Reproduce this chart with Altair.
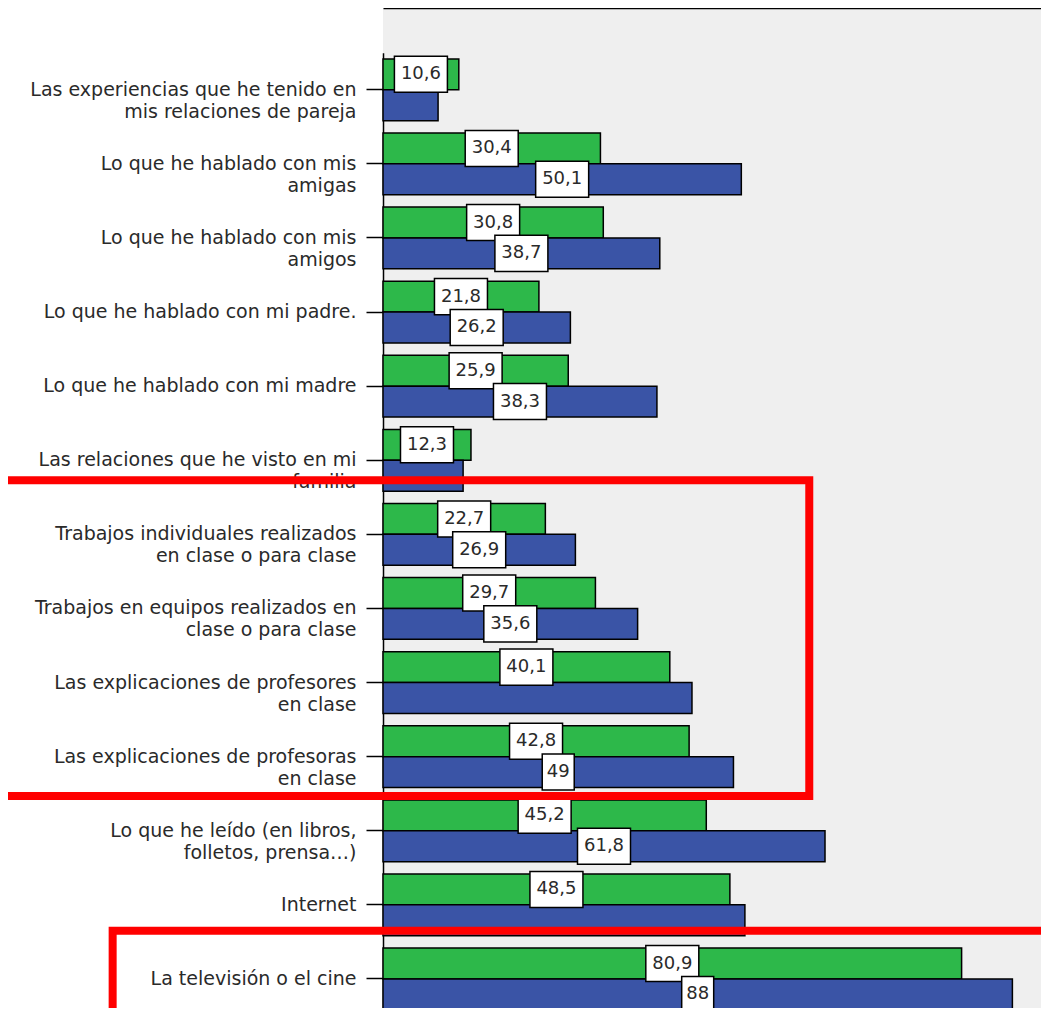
import altair as alt
import pandas as pd

categories = [
    "Las experiencias que he tenido en\nmis relaciones de pareja",
    "Lo que he hablado con mis\namigas",
    "Lo que he hablado con mis\namigos",
    "Lo que he hablado con mi padre.",
    "Lo que he hablado con mi madre",
    "Las relaciones que he visto en mi\nfamilia",
    "Trabajos individuales realizados\nen clase o para clase",
    "Trabajos en equipos realizados en\nclase o para clase",
    "Las explicaciones de profesores\nen clase",
    "Las explicaciones de profesoras\nen clase",
    "Lo que he leído (en libros,\nfolletos, prensa…)",
    "Internet",
    "La televisión o el cine",
]
series = ["Grupo verde", "Grupo azul"]
green_values = [10.6, 30.4, 30.8, 21.8, 25.9, 12.3, 22.7, 29.7, 40.1, 42.8, 45.2, 48.5, 80.9]
blue_values = [7.7, 50.1, 38.7, 26.2, 38.3, 11.2, 26.9, 35.6, 43.2, 49, 61.8, 50.6, 88]
green_label_shown = [True] * 13
blue_label_shown = [False, True, True, True, True, False, True, True, False, True, True, False, True]

# highlight boxes (annotation): x in value units, y as category bands
hl_x_start = [-60, -37.8]
hl_x_end = [59.6, 100]
hl_y_start = [categories[5], categories[11]]
hl_y_end = [categories[10], categories[12]]

rows = []
for cat, g, b, gs, bs in zip(categories, green_values, blue_values, green_label_shown, blue_label_shown):
    for s, v, show in ((series[0], g, gs), (series[1], b, bs)):
        lab = f"{v:g}".replace(".", ",")
        rows.append({"category": cat, "series": s, "value": v, "label": lab,
                     "show": show, "box": "long" if len(lab) > 2 else "short"})
df = pd.DataFrame(rows)

FONT = "DejaVu Sans"

y_scale = alt.Scale(domain=categories, range=[44.7, 1008.0], paddingInner=0, paddingOuter=0)
y_axis = alt.Axis(title=None, labelExpr="split(datum.label, '\\n')", labelFontSize=19,
                  labelFont=FONT, labelColor="#2a2a2a", labelLineHeight=22, labelLimit=500,
                  tickSize=17, tickColor="black", tickWidth=1.5, domainColor="black",
                  domainWidth=1.5, labelPadding=10, labelAlign="right", labelBaseline="middle",
                  grid=False)
x_scale = alt.Scale(domain=[0, 92], nice=False, zero=True)
x_axis = alt.Axis(orient="top", labels=False, ticks=False, grid=False, title=None,
                  domainColor="black", domainWidth=1.5)
yoff = alt.YOffset("series:N", sort=series,
                   scale=alt.Scale(domain=series, paddingOuter=0.2, paddingInner=0))

base = alt.Chart(df)

bars = base.mark_bar(stroke="black", strokeWidth=1.5).encode(
    x=alt.X("value:Q", scale=x_scale, axis=x_axis),
    y=alt.Y("category:N", scale=y_scale, axis=y_axis),
    yOffset=yoff,
    color=alt.Color("series:N", scale=alt.Scale(domain=series, range=["#2db84a", "#3a54a6"]), legend=None),
)

lab_base = base.transform_filter("datum.show").transform_calculate(mid="datum.value / 2")

box_long = "M-1,-0.68L1,-0.68L1,0.68L-1,0.68Z"
box_short = "M-1,-1.125L1,-1.125L1,1.125L-1,1.125Z"
boxes = lab_base.mark_point(filled=True, fill="white", stroke="black", strokeWidth=1.5, opacity=1).encode(
    x=alt.X("mid:Q", scale=x_scale),
    y=alt.Y("category:N", scale=y_scale),
    yOffset=yoff,
    shape=alt.Shape("box:N", scale=alt.Scale(domain=["long", "short"], range=[box_long, box_short]), legend=None),
    size=alt.Size("box:N", scale=alt.Scale(domain=["long", "short"], range=[2809, 1024]), legend=None),
)

texts = lab_base.mark_text(font=FONT, fontSize=18, color="#2a2a2a", baseline="middle", align="center").encode(
    x=alt.X("mid:Q", scale=x_scale),
    y=alt.Y("category:N", scale=y_scale),
    yOffset=yoff,
    text="label:N",
)

hl_df = pd.DataFrame({"x1": hl_x_start, "x2": hl_x_end, "y1": hl_y_start, "y2": hl_y_end})

hl1 = alt.Chart(hl_df.iloc[[0]]).mark_rect(fillOpacity=0, stroke="#ff0000", strokeWidth=8).encode(
    x=alt.X("x1:Q", scale=x_scale), x2="x2:Q",
    y=alt.Y("y1:N", scale=y_scale, bandPosition=0.77),
    y2=alt.Y2("y2:N", bandPosition=0.03),
)
hl2 = alt.Chart(hl_df.iloc[[1]]).mark_rect(fillOpacity=0, stroke="#ff0000", strokeWidth=8).encode(
    x=alt.X("x1:Q", scale=x_scale), x2="x2:Q",
    y=alt.Y("y1:N", scale=y_scale, bandPosition=0.85),
    y2=alt.Y2("y2:N", bandPosition=1.0),
)

chart = alt.layer(bars, boxes, texts, hl1, hl2).properties(
    width=658, height=1000,
    autosize=alt.AutoSizeParams(type="none"),
    padding={"left": 375, "top": 0, "right": 0, "bottom": 0},
    background="white",
).configure_view(fill="#efefef", stroke=None)

chart.save("out.html", embed_options={"renderer": "svg", "actions": False})
